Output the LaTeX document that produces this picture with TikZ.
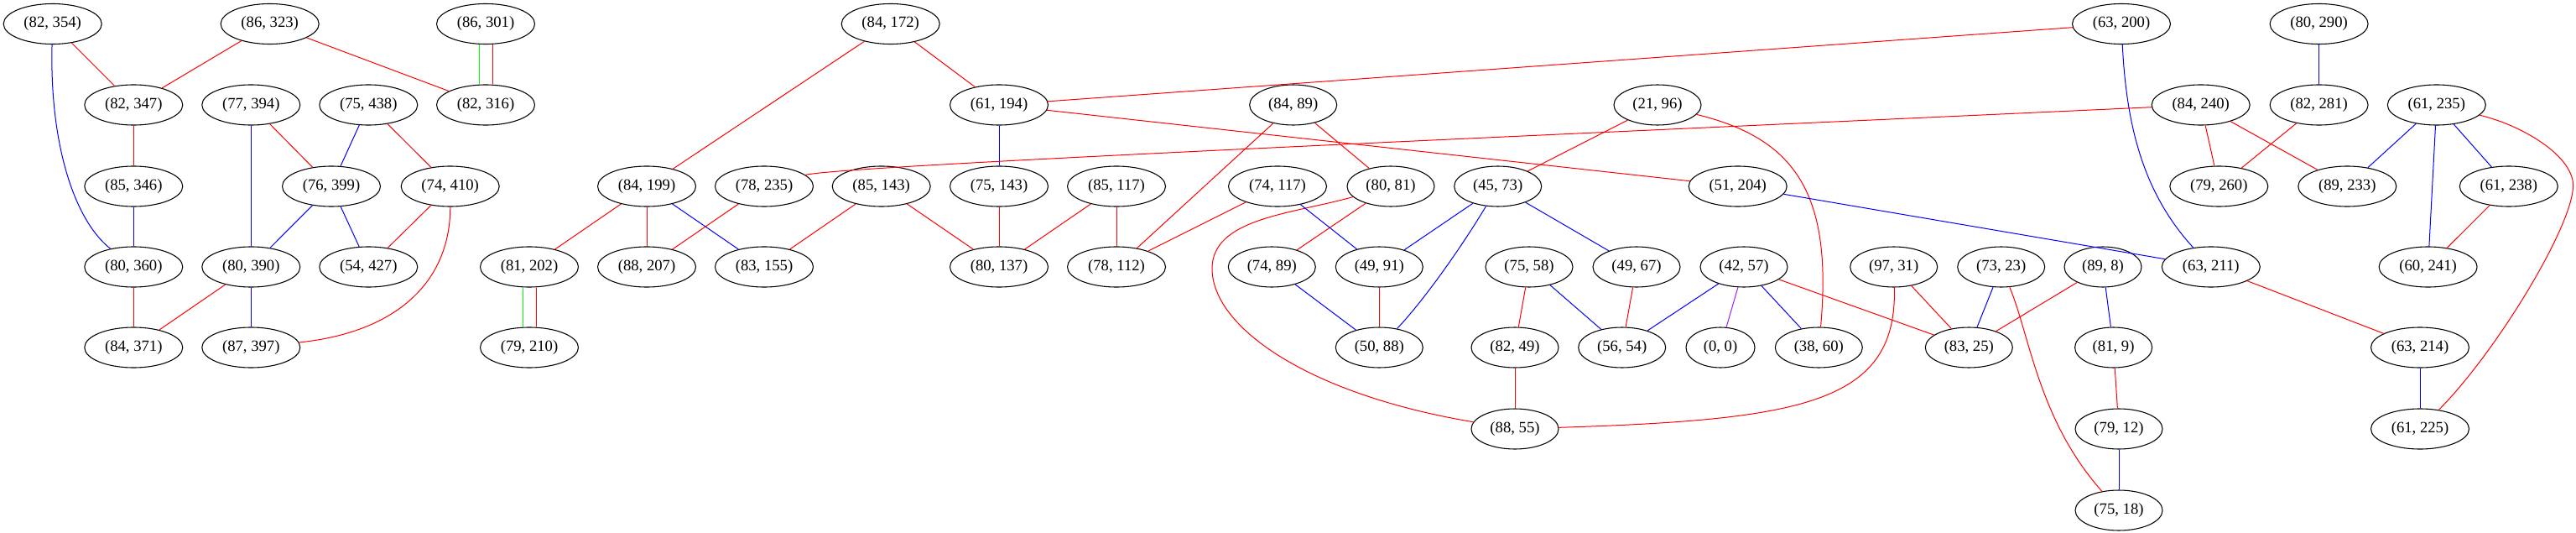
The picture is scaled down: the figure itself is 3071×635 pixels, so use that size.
\documentclass[tikz,border=0pt]{standalone}
\usepackage{fontspec}
\setmainfont{Liberation Serif}
\usetikzlibrary{shapes.geometric}
\definecolor{gvpurple}{RGB}{160,32,240}
\begin{document}
\begin{tikzpicture}[x=0.75pt,y=-0.75pt,
  gv/.style={draw=black, ellipse, inner sep=0pt, minimum height=36pt, line width=0.8pt, font=\fontsize{14}{16}\selectfont},
  ellW/.style={gv, minimum width=87.75pt},
  ellM/.style={gv, minimum width=78pt},
  ellS/.style={gv, minimum width=69pt},
  ellXS/.style={gv, minimum width=61.5pt},
  lnk/.style={line width=0.75pt}]
\useasboundingbox (0,0) rectangle (3071,635);
% row 1
\node[ellW] (a1) at (62.7,28.5) {(82, 354)};
\node[ellW] (a2) at (321.7,28.5) {(86, 323)};
\node[ellW] (a3) at (579,28.5) {(86, 301)};
\node[ellW] (a4) at (1061.7,28.5) {(84, 172)};
\node[ellW] (a5) at (2529,28.5) {(63, 200)};
\node[ellW] (a6) at (2764.6,28.5) {(80, 290)};
% row 2
\node[ellW] (b1) at (159.3,125) {(82, 347)};
\node[ellW] (b2) at (299.3,125) {(77, 394)};
\node[ellW] (b3) at (439.3,125) {(75, 438)};
\node[ellW] (b4) at (579,125) {(82, 316)};
\node[ellW] (b5) at (1191,125) {(61, 194)};
\node[ellM] (b6) at (1541.7,125) {(84, 89)};
\node[ellM] (b7) at (1976,125) {(21, 96)};
\node[ellW] (b8) at (2623.7,125) {(84, 240)};
\node[ellW] (b9) at (2764.6,125) {(82, 281)};
\node[ellW] (b10) at (2904.8,125) {(61, 235)};
% row 3
\node[ellW] (c1) at (159.3,222) {(85, 346)};
\node[ellW] (c2) at (395,222) {(76, 399)};
\node[ellW] (c3) at (536.7,222) {(74, 410)};
\node[ellW] (c4) at (771,222) {(84, 199)};
\node[ellW] (c5) at (911,222) {(78, 235)};
\node[ellW] (c6) at (1050.7,222) {(85, 143)};
\node[ellW] (c7) at (1191,222) {(75, 143)};
\node[ellW] (c8) at (1331,222) {(85, 117)};
\node[ellW] (c9) at (1523,222) {(74, 117)};
\node[ellM] (c10) at (1658,222) {(80, 81)};
\node[ellM] (c11) at (1785.7,222) {(45, 73)};
\node[ellW] (c12) at (2071.7,222) {(51, 204)};
\node[ellW] (c13) at (2645.3,222) {(79, 260)};
\node[ellW] (c14) at (2798.3,222) {(89, 233)};
\node[ellW] (c15) at (2990.8,222) {(61, 238)};
% row 4
\node[ellW] (d1) at (159.3,318) {(80, 360)};
\node[ellW] (d2) at (299.3,318) {(80, 390)};
\node[ellW] (d3) at (439.3,318) {(54, 427)};
\node[ellW] (d4) at (631,318) {(81, 202)};
\node[ellW] (d5) at (771,318) {(88, 207)};
\node[ellW] (d6) at (911,318) {(83, 155)};
\node[ellW] (d7) at (1191,318) {(80, 137)};
\node[ellW] (d8) at (1331,318) {(78, 112)};
\node[ellM] (d9) at (1516.3,318) {(74, 89)};
\node[ellM] (d10) at (1644.3,318) {(49, 91)};
\node[ellM] (d11) at (1823,318) {(75, 58)};
\node[ellM] (d12) at (1951,318) {(49, 67)};
\node[ellM] (d13) at (2079,318) {(42, 57)};
\node[ellM] (d14) at (2257.7,318) {(97, 31)};
\node[ellM] (d15) at (2385.7,318) {(73, 23)};
\node[ellS] (d16) at (2507,318) {(89, 8)};
\node[ellW] (d17) at (2635.8,318) {(63, 211)};
\node[ellW] (d18) at (2894.6,318) {(60, 241)};
% row 5
\node[ellW] (e1) at (159.3,414) {(84, 371)};
\node[ellW] (e2) at (299.3,414) {(87, 397)};
\node[ellW] (e3) at (631,414) {(79, 210)};
\node[ellM] (e4) at (1644.3,414) {(50, 88)};
\node[ellM] (e5) at (1806,414) {(82, 49)};
\node[ellM] (e6) at (1933.7,414) {(56, 54)};
\node[ellXS] (e7) at (2051,414) {(0, 0)};
\node[ellM] (e8) at (2168.3,414) {(38, 60)};
\node[ellM] (e9) at (2347.3,414) {(83, 25)};
\node[ellS] (e10) at (2519.6,414) {(81, 9)};
\node[ellW] (e11) at (2885,414) {(63, 214)};
% row 6
\node[ellM] (f1) at (1806,511) {(88, 55)};
\node[ellM] (f2) at (2526,511) {(79, 12)};
\node[ellW] (f3) at (2885,511) {(61, 225)};
% row 7
\node[ellM] (g1) at (2526,608) {(75, 18)};

% edges left area
\draw[lnk,red] (a1) -- (b1);
\draw[lnk,blue] (a1) .. controls (59,170) and (88,262) .. (d1);
\draw[lnk,red] (a2) -- (b1);
\draw[lnk,red] (a2) -- (b4);
\draw[lnk,green] ([xshift=-6pt]a3.south) -- ([xshift=-6pt]b4.north);
\draw[lnk,red] ([xshift=6pt]a3.south) -- ([xshift=6pt]b4.north);
\draw[lnk,red] (b1) -- (c1);
\draw[lnk,blue] (c1) -- (d1);
\draw[lnk,red] (d1) -- (e1);
\draw[lnk,red] (d2) -- (e1);
\draw[lnk,blue] (b2) -- (d2);
\draw[lnk,red] (b2) -- (c2);
\draw[lnk,blue] (b3) -- (c2);
\draw[lnk,red] (b3) -- (c3);
\draw[lnk,blue] (c2) -- (d2);
\draw[lnk,blue] (c2) -- (d3);
\draw[lnk,red] (c3) -- (d3);
\draw[lnk,blue] (d2) -- (e2);
\draw[lnk,red] (c3) .. controls (537,330) and (480,395) .. (e2);
% middle-left
\draw[lnk,red] (a4) -- (c4);
\draw[lnk,red] (a4) -- (b5);
\draw[lnk,red] (c4) -- (d4);
\draw[lnk,red] (c4) -- (d5);
\draw[lnk,blue] (c4) -- (d6);
\draw[lnk,green] ([xshift=-6pt]d4.south) -- ([xshift=-6pt]e3.north);
\draw[lnk,red] ([xshift=6pt]d4.south) -- ([xshift=6pt]e3.north);
\draw[lnk,red] (c5) -- (d5);
\draw[lnk,red] (c6) -- (d6);
\draw[lnk,red] (c6) -- (d7);
\draw[lnk,red] (c7) -- (d7);
\draw[lnk,red] (c8) -- (d7);
\draw[lnk,red] (c8) -- (d8);
\draw[lnk,blue] (b5) -- (c7);
\draw[lnk,red] (b5) -- (a5);
\draw[lnk,red] (b5) -- (c12);
\draw[lnk,red] (c5) .. controls (1000,197.5) and (1800,163) .. (b8);
% middle
\draw[lnk,red] (b6) -- (c10);
\draw[lnk,red] (b6) -- (d8);
\draw[lnk,red] (c10) -- (d9);
\draw[lnk,red] (c10) .. controls (1540,255) and (1445,260) .. (1445,320) .. controls (1445,390) and (1560,470) .. (f1);
\draw[lnk,red] (c9) -- (d8);
\draw[lnk,blue] (c9) -- (d10);
\draw[lnk,blue] (d9) -- (e4);
\draw[lnk,red] (d10) -- (e4);
\draw[lnk,blue] (c11) -- (d10);
\draw[lnk,blue] (c11) .. controls (1745,290) and (1700,355) .. (e4);
\draw[lnk,blue] (c11) -- (d12);
\draw[lnk,red] (b7) -- (c11);
\draw[lnk,red] (b7) .. controls (2140,165) and (2185,230) .. (e8);
\draw[lnk,red] (d11) -- (e5);
\draw[lnk,blue] (d11) -- (e6);
\draw[lnk,red] (d12) -- (e6);
\draw[lnk,red] (e5) -- (f1);
\draw[lnk,blue] (d13) -- (e6);
\draw[lnk,gvpurple] (d13) -- (e7);
\draw[lnk,blue] (d13) -- (e8);
\draw[lnk,red] (d13) -- (e9);
\draw[lnk,red] (d14) -- (e9);
\draw[lnk,red] (d14) .. controls (2262,480) and (2150,500) .. (f1);
\draw[lnk,blue] (d15) -- (e9);
\draw[lnk,red] (d15) .. controls (2420,400) and (2430,500) .. (g1);
\draw[lnk,red] (d16) -- (e9);
\draw[lnk,blue] (d16) -- (e10);
\draw[lnk,red] (e10) -- (f2);
\draw[lnk,blue] (f2) -- (g1);
% right area
\draw[lnk,blue] (a5) .. controls (2535,150) and (2555,230) .. (d17);
\draw[lnk,blue] (c12) -- (d17);
\draw[lnk,blue] (a6) -- (b9);
\draw[lnk,red] (b8) -- (c13);
\draw[lnk,red] (b8) -- (c14);
\draw[lnk,red] (b9) -- (c13);
\draw[lnk,blue] (b10) -- (c14);
\draw[lnk,blue] (b10) -- (c15);
\draw[lnk,blue] (b10) -- (d18);
\draw[lnk,red] (c15) -- (d18);
\draw[lnk,red] (d17) -- (e11);
\draw[lnk,blue] (e11) -- (f3);
\draw[lnk,red] (b10) .. controls (3010,150) and (3075,190) .. (3067,228) .. controls (3060,280) and (2975,420) .. (f3);
\end{tikzpicture}
\end{document}
